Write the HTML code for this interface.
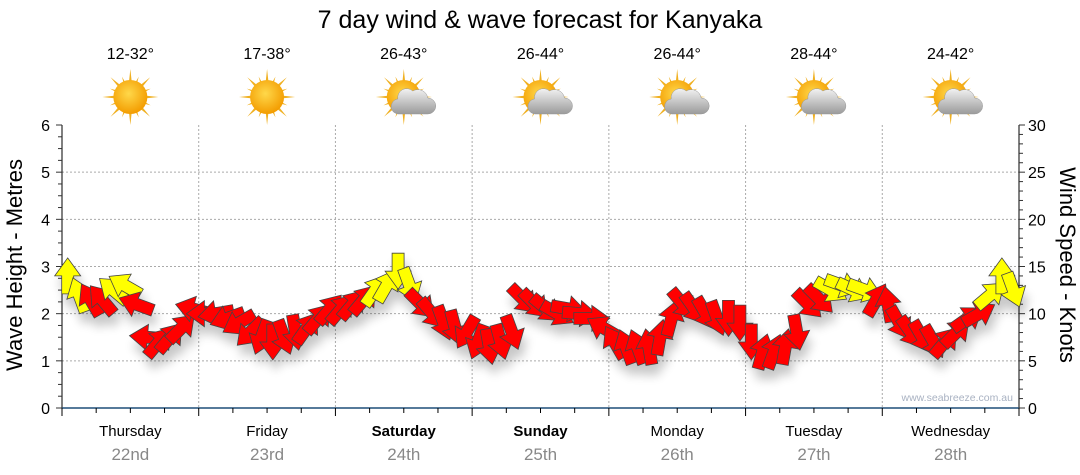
<!DOCTYPE html>
<html><head><meta charset="utf-8"><style>
html,body{margin:0;padding:0;background:#fff;width:1080px;height:475px;overflow:hidden}
svg{display:block;font-family:"Liberation Sans","DejaVu Sans",sans-serif}
</style></head><body>
<svg id="chart" width="1080" height="475" viewBox="0 0 1080 475" xmlns="http://www.w3.org/2000/svg">
<defs>
<filter id="sh" x="-50%" y="-50%" width="200%" height="200%"><feGaussianBlur in="SourceAlpha" stdDeviation="5"/><feOffset dx="3" dy="10"/><feComponentTransfer><feFuncA type="linear" slope="0.22"/></feComponentTransfer><feMerge><feMergeNode/><feMergeNode in="SourceGraphic"/></feMerge></filter>
<radialGradient id="sun" cx="45%" cy="40%" r="60%"><stop offset="0" stop-color="#ffd84a"/><stop offset="1" stop-color="#f39c00"/></radialGradient>
<linearGradient id="cloud" x1="0" y1="0" x2="0" y2="1"><stop offset="0" stop-color="#f2f2f2"/><stop offset="1" stop-color="#9a9a9a"/></linearGradient>
</defs>
<text x="540" y="28" font-size="25" text-anchor="middle" fill="#000">7 day wind &amp; wave forecast for Kanyaka</text>
<g id="weather"></g>
<g id="grid"></g>
<g id="axes"></g>
<g id="arrows" filter="url(#sh)"></g>
<text x="1013" y="401" font-size="10.5" text-anchor="end" fill="#a9b2c2">www.seabreeze.com.au</text>
<text transform="translate(22,265) rotate(-90)" font-size="22" text-anchor="middle">Wave Height - Metres</text>
<text transform="translate(1060,265) rotate(90)" font-size="22" text-anchor="middle">Wind Speed - Knots</text>
</svg>
<script>
const days = ["Thursday","Friday","Saturday","Sunday","Monday","Tuesday","Wednesday"];
const dates = ["22nd","23rd","24th","25th","26th","27th","28th"];
const boldDays = [false,false,true,true,false,false,false];
const temps = ["12-32°","17-38°","26-43°","26-44°","26-44°","28-44°","24-42°"];
const cloudy = [false,false,true,true,true,true,true];
const waveTicks = [0,1,2,3,4,5,6];
const windTicks = [0,5,10,15,20,25,30];
// wind speed (knots), 2-hourly
const windSpeed = [
 14,12,11.5,11.5,12.5,13,11,7.5,7,7.5,8.5,10.5,
 10,10,9.5,9,8,7.5,7,7.5,8,8.5,9.5,10.5,
 10.5,11,11.5,12.5,13,14.5,13,11,10,9,8.5,8,
 7,6.5,7,8,11.5,11,10.5,10,10.5,10,9.5,8.5,
 7,6.5,6.5,6.5,7.5,9.5,11,10.5,10,9.5,9.5,9,
 7,6,6,6.5,8,11,11.5,12.5,13,12.5,12.5,11.5,
 11,9,8,7.5,7,7,8,9.5,10,12,14,12.5];
// direction arrow points to (degrees clockwise from up)
const windDir = [
 0,340,330,320,310,300,290,275,40,40,45,285,
 270,260,250,240,225,200,180,160,170,35,40,40,
 40,40,40,35,30,180,160,135,140,160,165,210,
 200,170,165,160,135,135,130,120,100,95,90,300,
 330,340,340,350,10,15,140,145,150,160,180,180,
 180,15,20,10,170,135,135,120,110,115,110,30,
 350,150,145,150,150,40,45,55,60,50,0,160];

const NS="http://www.w3.org/2000/svg";
const X0=62, X1=1019, Y0=408, YT=125;
const dayW=(X1-X0)/7;
const xTime=h=>X0+h/168*(X1-X0);
const yWave=m=>Y0-m/6*(Y0-YT);
const yWind=k=>Y0-k/30*(Y0-YT);
function mk(tag,attrs,parent){const e=document.createElementNS(NS,tag);for(const k in attrs)e.setAttribute(k,attrs[k]);parent.appendChild(e);return e;}
const grid=document.getElementById('grid'),axes=document.getElementById('axes'),wg=document.getElementById('weather'),ag=document.getElementById('arrows');

waveTicks.forEach(t=>{ if(t>0&&t<6){const l=mk('line',{x1:X0,x2:X1,y1:yWave(t),y2:yWave(t),stroke:'#aaa','stroke-dasharray':'2,2'},grid);

}});
for(let d=1;d<7;d++){const x=X0+d*dayW;const l=mk('line',{x1:x,x2:x,y1:YT,y2:Y0,stroke:'#aaa','stroke-dasharray':'2,2'},grid);

}

mk('line',{x1:X0,x2:X0,y1:YT,y2:Y0,stroke:'#000'},axes);
for(let i=0;i<=24;i++){const y=yWave(i/4);mk('line',{x1:X0-(i%4?4:6),x2:X0,y1:y,y2:y,stroke:'#333'},axes);}
waveTicks.forEach(t=>{const e=mk('text',{x:X0-12,y:yWave(t)+6,'font-size':16,'text-anchor':'end'},axes);e.textContent=t;

});
mk('line',{x1:X1,x2:X1,y1:YT,y2:Y0,stroke:'#000'},axes);
for(let i=0;i<=30;i++){const y=yWind(i);mk('line',{x1:X1,x2:X1+(i%5?4:6),y1:y,y2:y,stroke:'#333'},axes);}
windTicks.forEach(t=>{const e=mk('text',{x:X1+9,y:yWind(t)+6,'font-size':16},axes);e.textContent=t;

});
mk('line',{x1:X0,x2:X1,y1:Y0,y2:Y0,stroke:'#1f4e79','stroke-width':1.5},axes);
for(let i=0;i<=28;i++){const x=X0+i*dayW/4;mk('line',{x1:x,x2:x,y1:Y0,y2:Y0+(i%4?5:8),stroke:'#000'},axes);}
days.forEach((d,i)=>{const cx=X0+(i+0.5)*dayW;
const t=mk('text',{x:cx,y:436,'font-size':15,'text-anchor':'middle','font-weight':boldDays[i]?'bold':'normal'},axes);t.textContent=d;


const t2=mk('text',{x:cx,y:460,'font-size':17,'text-anchor':'middle',fill:'#888'},axes);t2.textContent=dates[i];


const tt=mk('text',{x:cx,y:59,'font-size':16,'text-anchor':'middle'},wg);tt.textContent=temps[i];


const g=mk('g',{transform:`translate(${cx},${97})`},wg);


for(let r=0;r<16;r++){const long=r%2==0;const L=long?28:22;mk('polygon',{points:`-3,0 0,-${L} 3,0`,fill:'#f0b020',transform:`rotate(${r*22.5})`},g);}
mk('circle',{cx:0,cy:0,r:17,fill:'url(#sun)'},g);
if(cloudy[i]){mk('path',{d:'M-4,17 h28 a8,8 0 0 0 0,-16 a10,10 0 0 0 -15,-7 a9,9 0 0 0 -15,8 a7.5,7.5 0 0 0 2,15z',fill:'url(#cloud)',stroke:'#999','stroke-width':0.5},g);}
});

windSpeed.forEach((s,i)=>{const x=xTime(i*2+1),y=yWind(s);
const col=s>=12?'#ffff00':'#ff0000';
const p=mk('polygon',{points:'-6,18 6,18 6,0 13,0 0,-18 -13,0 -6,0',fill:col,stroke:'#444','stroke-width':0.8,transform:`translate(${x.toFixed(1)},${y.toFixed(1)}) rotate(${windDir[i]})`},ag);

});
</script>
</body></html>
